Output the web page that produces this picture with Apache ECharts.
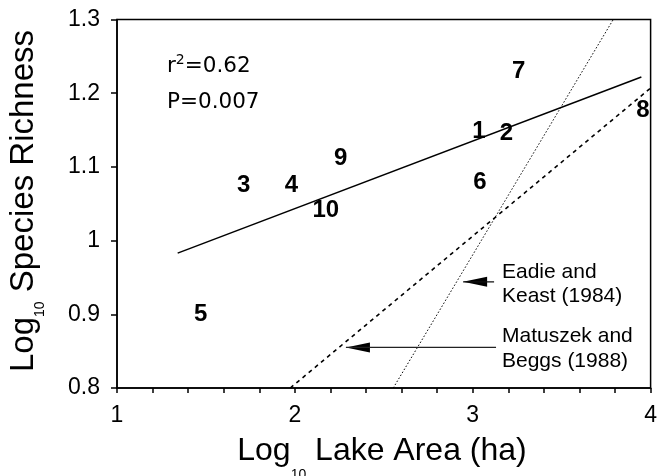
<!DOCTYPE html>
<html>
<head>
<meta charset="utf-8">
<script src="https://cdn.jsdelivr.net/npm/echarts@6/dist/echarts.min.js"></script>
<style>html,body{margin:0;padding:0;background:#fff}#c{width:660px;height:476px}</style>
</head>
<body>
<div id="c"></div>
<script>
// Lake identifiers and their values
const lakeIds = ['1','2','3','4','5','6','7','8','9','10'];
const logLakeArea = [3.035, 3.19, 1.712, 1.981, 1.471, 3.04, 3.258, 3.957, 2.258, 2.174];
const logRichness = [1.148, 1.146, 1.075, 1.075, 0.900, 1.079, 1.229, 1.177, 1.112, 1.0415];

// Fitted regression (this study)
const fitX = [1.341, 3.948];
const fitY = [0.983, 1.222];
// Matuszek and Beggs (1988) relation (dashed)
const matX = [1.974, 4.0];
const matY = [0.8, 1.207];
// Eadie and Keast (1984) relation (dotted)
const eadX = [2.553, 3.79];
const eadY = [0.8, 1.3];

// Arrow annotations: [startX, tipX, y]
const eadieArrow = [3.12, 2.946, 0.944];
const matuszekArrow = [3.131, 2.287, 0.855];

const statsText = ['r', '2', '=0.62', 'P=0.007'];
const eadieLabel = ['Eadie and', 'Keast (1984)'];
const matuszekLabel = ['Matuszek and', 'Beggs (1988)'];

const xRange = [1, 4];
const yRange = [0.8, 1.3];

const pts = lakeIds.map((id, i) => ({ name: id, value: [logLakeArea[i], logRichness[i]] }));
const pair = (xs, ys) => [[xs[0], ys[0]], [xs[1], ys[1]]];

const chart = echarts.init(document.getElementById('c'), null, { renderer: 'canvas' });
const baseFont = 'Liberation Sans, Arial, Helvetica, sans-serif';
const statFont = 'DejaVu Sans, sans-serif';
const arrowPath = 'path://M0,5 L24,0 L24,10 Z';

chart.setOption({
  animation: false,
  backgroundColor: '#fff',
  grid: { left: 117, right: 4, top: 19.5, bottom: 88, show: true, borderColor: '#000', borderWidth: 1.5, backgroundColor: 'transparent' },
  xAxis: {
    type: 'value', min: xRange[0], max: xRange[1], interval: 1,
    axisLine: { lineStyle: { color: '#000', width: 1.5 } },
    axisTick: { inside: false, length: 5, lineStyle: { color: '#000', width: 1.5 } },
    minorTick: { show: true, splitNumber: 5, length: 5, lineStyle: { color: '#000', width: 1.5 } },
    splitLine: { show: false },
    axisLabel: { color: '#000', fontSize: 23, fontFamily: baseFont, margin: 16 }
  },
  yAxis: {
    type: 'value', min: yRange[0], max: yRange[1], interval: 0.1,
    axisLine: { lineStyle: { color: '#000', width: 1.5 } },
    axisTick: { inside: false, length: 6, lineStyle: { color: '#000', width: 1.5 } },
    splitLine: { show: false },
    axisLabel: { color: '#000', fontSize: 23, fontFamily: baseFont, margin: 17 }
  },
  graphic: [
    {
      type: 'text', x: 382, y: 451.5, silent: true,
      style: {
        text: '{m|Log}{s|10}{m| Lake Area (ha)}', align: 'center', verticalAlign: 'middle',
        rich: {
          m: { fontSize: 32, fontFamily: baseFont, fill: '#000', lineHeight: 62 },
          s: { fontSize: 14, fontFamily: baseFont, fill: '#000', lineHeight: 14, verticalAlign: 'bottom' }
        }
      }
    },
    {
      type: 'text', x: 23.5, y: 201, rotation: Math.PI / 2, silent: true,
      style: {
        text: '{m|Log}{s|10}{m| Species Richness}', align: 'center', verticalAlign: 'middle',
        rich: {
          m: { fontSize: 33, fontFamily: baseFont, fill: '#000', lineHeight: 47 },
          s: { fontSize: 14, fontFamily: baseFont, fill: '#000', lineHeight: 14, verticalAlign: 'bottom' }
        }
      }
    },
    {
      type: 'text', x: 167, y: 66, silent: true,
      style: {
        text: '{m|' + statsText[0] + '}{p|' + statsText[1] + '}{m|' + statsText[2] + '}', align: 'left', verticalAlign: 'middle',
        rich: {
          m: { fontSize: 21.5, fontFamily: statFont, fill: '#000', lineHeight: 26 },
          p: { fontSize: 14, fontFamily: statFont, fill: '#000', lineHeight: 14, verticalAlign: 'top' }
        }
      }
    },
    {
      type: 'text', x: 167, y: 102, silent: true,
      style: { text: statsText[3], align: 'left', verticalAlign: 'middle', fontSize: 21.5, fontFamily: statFont, fill: '#000' }
    },
    {
      type: 'text', x: 502, y: 284, silent: true,
      style: { text: eadieLabel.join('\n'), align: 'left', verticalAlign: 'middle', fontSize: 21, lineHeight: 24, fontFamily: baseFont, fill: '#000' }
    },
    {
      type: 'text', x: 502, y: 349, silent: true,
      style: { text: matuszekLabel.join('\n'), align: 'left', verticalAlign: 'middle', fontSize: 21, lineHeight: 25, fontFamily: baseFont, fill: '#000' }
    }
  ],
  series: [
    {
      type: 'line', data: pair(fitX, fitY), showSymbol: false, symbol: 'none', silent: true,
      lineStyle: { color: '#000', width: 1.5 }
    },
    {
      type: 'line', data: pair(matX, matY), showSymbol: false, symbol: 'none', silent: true,
      lineStyle: { color: '#000', width: 1.6, type: [4, 4] }
    },
    {
      type: 'line', data: pair(eadX, eadY), showSymbol: false, symbol: 'none', silent: true,
      lineStyle: { color: '#000', width: 1, type: [1.5, 2] }
    },
    {
      type: 'line', data: [[eadieArrow[0], eadieArrow[2]], [eadieArrow[1], eadieArrow[2]]], showSymbol: false, symbol: 'none', silent: true,
      lineStyle: { color: '#111', width: 1.3 }
    },
    {
      type: 'line', data: [[matuszekArrow[0], matuszekArrow[2]], [matuszekArrow[1], matuszekArrow[2]]], showSymbol: false, symbol: 'none', silent: true,
      lineStyle: { color: '#222', width: 1.3 }
    },
    {
      type: 'scatter', silent: true,
      data: [[eadieArrow[1], eadieArrow[2]], [matuszekArrow[1], matuszekArrow[2]]],
      symbol: arrowPath, symbolSize: [24, 10], symbolOffset: [12, 0], symbolKeepAspect: false,
      itemStyle: { color: '#000', opacity: 1 }
    },
    {
      type: 'scatter', data: pts, symbolSize: 1, silent: true,
      itemStyle: { color: '#fff', opacity: 1 },
      label: {
        show: true, position: 'inside', formatter: p => p.name,
        color: '#000', fontSize: 24, fontWeight: 'bold', fontFamily: baseFont,
        textBorderWidth: 0
      }
    }
  ]
});
</script>
</body>
</html>
